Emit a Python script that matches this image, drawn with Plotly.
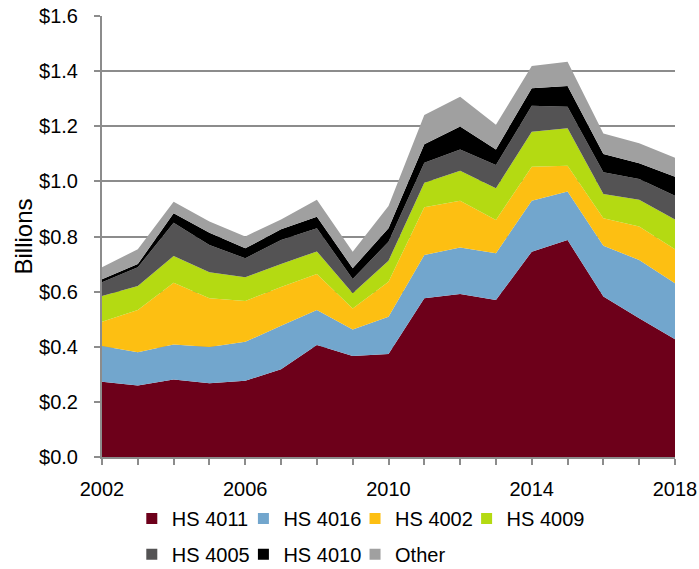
import plotly.graph_objects as go

years = list(range(2002, 2019))
tick_labels = ["2002", "", "", "", "2006", "", "", "", "2010", "", "", "", "2014", "", "", "", "2018"]

hs4011 = [0.273, 0.259, 0.281, 0.268, 0.277, 0.318, 0.406, 0.366, 0.374, 0.576, 0.591, 0.570, 0.745, 0.787, 0.582, 0.503, 0.427]
hs4016 = [0.130, 0.121, 0.127, 0.131, 0.141, 0.158, 0.127, 0.097, 0.135, 0.157, 0.169, 0.169, 0.185, 0.176, 0.184, 0.212, 0.203]
hs4002 = [0.088, 0.153, 0.224, 0.177, 0.148, 0.141, 0.131, 0.076, 0.127, 0.173, 0.170, 0.121, 0.123, 0.094, 0.100, 0.121, 0.124]
hs4009 = [0.093, 0.087, 0.097, 0.094, 0.086, 0.083, 0.082, 0.055, 0.076, 0.089, 0.109, 0.115, 0.127, 0.136, 0.088, 0.097, 0.108]
hs4005 = [0.050, 0.068, 0.121, 0.099, 0.069, 0.087, 0.084, 0.052, 0.069, 0.073, 0.077, 0.084, 0.094, 0.078, 0.079, 0.076, 0.086]
hs4010 = [0.011, 0.012, 0.034, 0.045, 0.036, 0.039, 0.042, 0.039, 0.049, 0.067, 0.083, 0.057, 0.064, 0.075, 0.066, 0.057, 0.069]
other = [0.043, 0.054, 0.042, 0.040, 0.043, 0.036, 0.061, 0.060, 0.081, 0.106, 0.108, 0.089, 0.081, 0.088, 0.075, 0.072, 0.069]

series = [
    ("HS 4011", hs4011, "#6d001a"),
    ("HS 4016", hs4016, "#72a6cd"),
    ("HS 4002", hs4002, "#fdbf12"),
    ("HS 4009", hs4009, "#b4da12"),
    ("HS 4005", hs4005, "#545354"),
    ("HS 4010", hs4010, "#000000"),
    ("Other", other, "#a0a0a0"),
]

fig = go.Figure()
for name, vals, col in series:
    fig.add_trace(go.Scatter(x=years, y=vals, name=name, stackgroup="one",
                             mode="none", fillcolor=col, showlegend=False))

# legend: 4 entries per row, each entry in its own small legend box
col_x = [0.052, 0.2468, 0.4416, 0.6363]
row_y = [0.123, 0.06]
legends = {}
for i, (name, vals, col) in enumerate(series):
    key = "legend" if i == 0 else "legend%d" % (i + 1)
    fig.add_trace(go.Scatter(x=[None], y=[None], name=name, mode="markers",
                             legend=key,
                             marker=dict(symbol="square", size=11, color=col)))
    legends[key] = dict(orientation="h", x=col_x[i % 4], xanchor="left",
                        yref="container", y=row_y[i // 4], yanchor="top",
                        itemwidth=30, font=dict(size=20),
                        bgcolor="rgba(0,0,0,0)")

fig.update_layout(
    width=699, height=569,
    margin=dict(l=102, r=24, t=16, b=112, autoexpand=False),
    plot_bgcolor="white", paper_bgcolor="white",
    font=dict(family="Liberation Sans, Arial", size=20, color="#000000"),
    showlegend=True,
    **legends,
)
fig.update_xaxes(range=[2002, 2018], tickvals=years, ticktext=tick_labels,
                 showline=True, linecolor="#8c8c8c", linewidth=2,
                 ticks="outside", ticklen=6, tickcolor="#8c8c8c", tickwidth=2,
                 ticklabelstandoff=7, showgrid=False, zeroline=False)
fig.update_yaxes(range=[0, 1.6], dtick=0.2, tickprefix="$", tickformat=".1f",
                 title=dict(text="Billions", standoff=0),
                 showline=True, linecolor="#8c8c8c", linewidth=2,
                 ticks="outside", ticklen=6, tickcolor="#8c8c8c", tickwidth=2,
                 ticklabelstandoff=12,
                 showgrid=True, gridcolor="#8c8c8c", gridwidth=2, zeroline=False)

# drop the default 8px page margin so the figure sits at the window corner
fig.write_html("out.html", config={"displayModeBar": False},
               post_script="document.body.style.margin='0';")
